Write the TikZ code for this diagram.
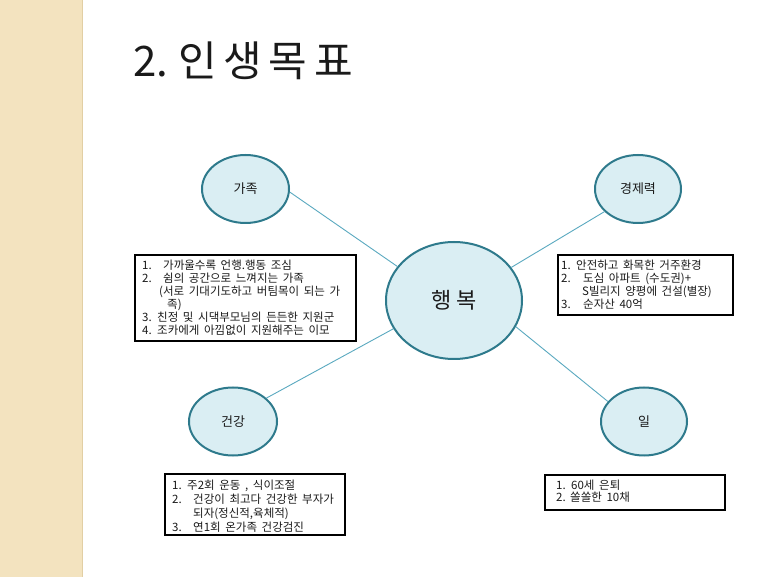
\documentclass[tikz,border=0pt]{standalone}
\usepackage{fontspec}
\setmainfont{Noto Sans CJK KR}
\newfontfamily\kr{Noto Sans CJK KR}
\usetikzlibrary{shapes.geometric}
\definecolor{stripe}{HTML}{F3E3BF}
\definecolor{stripeedge}{HTML}{E2CFA4}
\definecolor{bubblefill}{HTML}{DAEEF3}
\definecolor{bubbleedge}{HTML}{2E7A8C}
\definecolor{linkcol}{HTML}{5AA9C0}
\definecolor{ink}{HTML}{1A1A1A}
\newcommand{\boxfont}[1]{\kr\fontsize{11.5}{#1}\selectfont\spaceskip=4.6pt plus 1pt minus 0.5pt\relax}
\begin{document}
\begin{tikzpicture}[x=1pt,y=-1pt,
  bubble/.style={ellipse, draw=bubbleedge, line width=2pt, fill=bubblefill, inner sep=0pt, font=\kr\fontsize{13}{15}\selectfont, text=ink},
  link/.style={draw=linkcol, line width=0.9pt},
  textbox/.style={draw=black, line width=1.3pt, fill=white, inner sep=0pt},
  boxtext/.style={anchor=north west, inner sep=0pt, align=left, text=ink}]
\useasboundingbox (0,0) rectangle (772,577);
\fill[white] (0,0) rectangle (772,577);
\fill[stripe] (0,0) rectangle (82,577);
\draw[stripeedge, line width=1pt] (82,0) -- (82,577);

\node[anchor=base west, inner sep=0pt, text=ink, font=\kr\fontsize{42}{48}\selectfont] (title) at (133,77) {2.\kern1pt\ 인\kern6.5pt 생\kern6.5pt 목\kern6.5pt 표};

% bubbles
\node[bubble, minimum width=87, minimum height=68] (family) at (245.5,189) {가족};
\node[bubble, minimum width=86, minimum height=68] (wealth) at (638,189) {경제력};
\node[bubble, minimum width=136, minimum height=117, font=\kr\fontsize{22}{26}\selectfont] (happy) at (454,300.5) {행\hspace{5pt}복};
\node[bubble, minimum width=88, minimum height=68] (health) at (233,421.5) {건강};
\node[bubble, minimum width=86, minimum height=68] (work) at (644,421.5) {일};

% links
\draw[link] (family.-4) -- (happy.149);
\draw[link] (wealth.214) -- (happy.30);
\draw[link] (health.35) -- (happy.205);
\draw[link] (work.151) -- (happy.-23);

% boxes
\node[textbox, minimum width=221, minimum height=86] (b1) at (245.5,298) {};
\node[textbox, minimum width=175, minimum height=60] (b2) at (645.5,285) {};
\node[textbox, minimum width=180, minimum height=61] (b3) at (255,504.5) {};
\node[textbox, minimum width=180, minimum height=35] (b4) at (635,492.5) {};

\node[boxtext, font=\boxfont{13}] (t1) at (142,260) {%
\makebox[21pt][l]{1.}가까울수록 언행.행동 조심\\
\makebox[21pt][l]{2.}쉼의 공간으로 느껴지는 가족\\
\hspace*{17pt}(서로 기대기도하고 버팀목이 되는 가\\
\hspace*{25pt}족)\\
3. 친정 및 시댁부모님의 든든한 지원군\\
4. 조카에게 아낌없이 지원해주는 이모};

\node[boxtext, font=\boxfont{13}] (t2) at (561,260) {%
1. 안전하고 화목한 거주환경\\
\makebox[22pt][l]{2.}도심 아파트 (수도권)+\\
\hspace*{21pt}S빌리지 양평에 건설(별장)\\
\makebox[22pt][l]{3.}순자산 40억};

\node[boxtext, font=\boxfont{14}] (t3) at (172,480) {%
1. 주2회 운동 , 식이조절\\
\makebox[21pt][l]{2.}건강이 최고다 건강한 부자가\\
\hspace*{21pt}되자(정신적,육체적)\\
\makebox[21pt][l]{3.}연1회 온가족 건강검진};

\node[boxtext, font=\boxfont{12}] (t4) at (556,480) {%
1. 60세 은퇴\\
\makebox[14pt][l]{2.}쏠쏠한 10채};
\end{tikzpicture}
\end{document}
